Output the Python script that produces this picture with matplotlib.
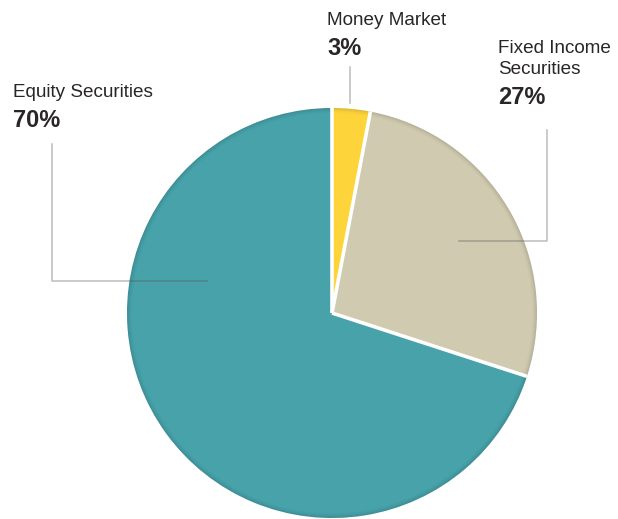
import numpy as np
import matplotlib.pyplot as plt
from matplotlib.patches import Wedge

# dados
labels = ["Money Market", "Fixed Income\nSecurities", "Equity Securities"]
shares = [3, 27, 70]
colors = ["#fdd53a", "#d0cab0", "#47a2aa"]

W, H = 618, 519
cx, cy, r = 332, H - 313, 205

fig = plt.figure(figsize=(W / 100, H / 100), dpi=100)
ax = fig.add_axes([0, 0, 1, 1])
ax.set_xlim(0, W)
ax.set_ylim(0, H)
ax.set_aspect("equal")
ax.axis("off")

ax.pie(shares, colors=colors, startangle=90, counterclock=False,
       center=(cx, cy), radius=r, wedgeprops=dict(linewidth=0))
ax.set_xlim(0, W)
ax.set_ylim(0, H)

# sombra interna na borda (mais suave)
n = 10
for k in range(n):
    ax.add_patch(Wedge((cx, cy), r - k * 0.6, 0, 360, width=0.6,
                       facecolor="black", edgecolor="none",
                       alpha=0.13 * (1 - k / n) ** 2, zorder=3))

# linhas brancas entre as fatias
bounds = 90 - 360 * np.cumsum([0] + shares[:-1]) / 100
for a in bounds:
    t = np.deg2rad(a)
    ax.plot([cx, cx + r * np.cos(t)], [cy, cy + r * np.sin(t)],
            color="white", lw=2.6, zorder=4, solid_capstyle="butt")

# linhas de chamada
lc = dict(color="#555555", alpha=0.4, lw=1.1, zorder=5)
ax.plot([52, 52, 207], [H - 144, H - 281, H - 281], **lc)
ax.plot([350, 350], [H - 67, H - 103], **lc)
ax.plot([547, 547, 459], [H - 130, H - 241, H - 241], **lc)

# textos
tc = "#2a2627"
reg = dict(fontsize=13.6, family="Liberation Sans", color=tc, va="baseline")
bold = dict(fontsize=17, family="Liberation Sans", color=tc, va="baseline",
            fontweight="bold")

ax.text(327, H - 25, labels[0], **reg)
ax.text(327, H - 55, f"{shares[0]}%", **bold)

ax.text(498, H - 53, "Fixed Income", **reg)
ax.text(498, H - 74, "Securities", **reg)
ax.text(498, H - 104, f"{shares[1]}%", **bold)

ax.text(13, H - 97, labels[2], **reg)
ax.text(13, H - 127, f"{shares[2]}%", **bold)

fig.savefig("out.png", dpi=100)
